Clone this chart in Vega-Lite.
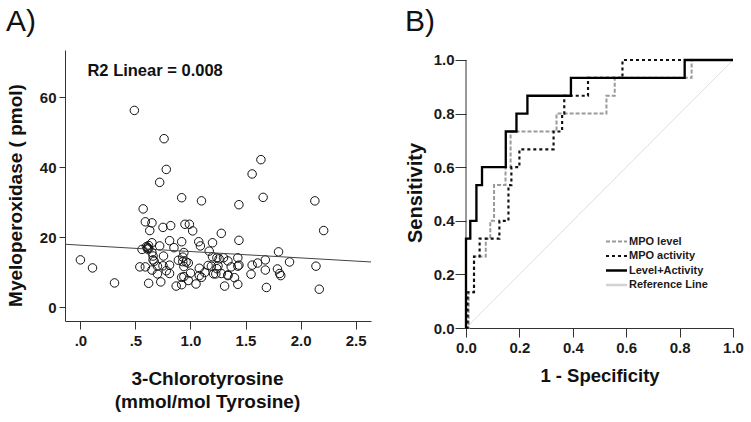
{
  "$schema": "https://vega.github.io/schema/vega-lite/v6.json",
  "background": "white",
  "padding": {"left": 6, "top": 7, "right": 5, "bottom": 5},
  "spacing": 95,
  "bounds": "flush",
  "config": {
    "view": {"stroke": null},
    "axis": {
      "grid": false,
      "domainColor": "#333333",
      "tickColor": "#333333",
      "labelFont": "Liberation Sans",
      "labelFontWeight": "bold",
      "labelFontSize": 15,
      "labelColor": "#1a1a1a",
      "labelFlush": false,
      "titleFont": "Liberation Sans",
      "titleFontWeight": "bold",
      "titleFontSize": 19,
      "titleColor": "#111111"
    }
  },
  "datasets": {
    "scatter": [
      {"c": 0.00, "m": 13.5}, {"c": 0.11, "m": 11.2}, {"c": 0.31, "m": 6.9}, {"c": 0.49, "m": 56.3},
      {"c": 0.76, "m": 48.2}, {"c": 0.78, "m": 39.4}, {"c": 0.72, "m": 35.7}, {"c": 0.92, "m": 31.3},
      {"c": 1.10, "m": 30.4}, {"c": 1.44, "m": 29.3}, {"c": 1.64, "m": 42.2}, {"c": 1.56, "m": 38.1},
      {"c": 1.66, "m": 31.4}, {"c": 2.13, "m": 30.4}, {"c": 2.21, "m": 21.9}, {"c": 2.14, "m": 11.7},
      {"c": 2.17, "m": 5.1}, {"c": 0.57, "m": 28.1}, {"c": 0.59, "m": 24.4}, {"c": 0.65, "m": 24.1},
      {"c": 0.63, "m": 21.9}, {"c": 0.75, "m": 22.8}, {"c": 0.82, "m": 23.3}, {"c": 0.95, "m": 23.7},
      {"c": 0.99, "m": 23.7}, {"c": 1.02, "m": 21.8}, {"c": 1.28, "m": 21.1}, {"c": 1.44, "m": 19.1},
      {"c": 0.81, "m": 19.0}, {"c": 0.92, "m": 18.7}, {"c": 1.075, "m": 18.7}, {"c": 1.20, "m": 18.4},
      {"c": 0.65, "m": 18.4}, {"c": 0.72, "m": 17.5}, {"c": 1.09, "m": 17.5}, {"c": 0.85, "m": 17.0},
      {"c": 0.56, "m": 16.5}, {"c": 0.60, "m": 17.3}, {"c": 0.61, "m": 17.0}, {"c": 0.62, "m": 16.8},
      {"c": 0.61, "m": 16.6}, {"c": 0.65, "m": 15.6}, {"c": 0.94, "m": 15.6}, {"c": 0.755, "m": 14.6},
      {"c": 1.17, "m": 16.0}, {"c": 1.20, "m": 14.4}, {"c": 1.24, "m": 14.1}, {"c": 1.26, "m": 13.8},
      {"c": 1.30, "m": 14.1}, {"c": 1.34, "m": 13.2}, {"c": 1.43, "m": 14.1}, {"c": 0.66, "m": 13.5},
      {"c": 0.67, "m": 13.1}, {"c": 0.93, "m": 14.3}, {"c": 0.96, "m": 12.9}, {"c": 0.98, "m": 12.6},
      {"c": 1.80, "m": 15.8}, {"c": 1.68, "m": 13.5}, {"c": 1.90, "m": 12.9}, {"c": 1.61, "m": 12.6},
      {"c": 1.56, "m": 12.0}, {"c": 1.44, "m": 12.0}, {"c": 1.43, "m": 11.7}, {"c": 0.54, "m": 11.5},
      {"c": 0.59, "m": 11.5}, {"c": 0.65, "m": 10.6}, {"c": 0.70, "m": 11.7}, {"c": 0.75, "m": 11.8},
      {"c": 0.81, "m": 12.0}, {"c": 0.94, "m": 11.6}, {"c": 1.08, "m": 11.1}, {"c": 1.19, "m": 11.7},
      {"c": 1.25, "m": 11.8}, {"c": 1.37, "m": 11.5}, {"c": 1.24, "m": 11.0}, {"c": 0.70, "m": 9.5},
      {"c": 0.81, "m": 9.6}, {"c": 0.92, "m": 8.5}, {"c": 0.94, "m": 8.7}, {"c": 1.00, "m": 9.7},
      {"c": 1.08, "m": 9.0}, {"c": 1.10, "m": 8.5}, {"c": 1.21, "m": 9.5}, {"c": 1.28, "m": 9.6},
      {"c": 1.34, "m": 9.2}, {"c": 1.40, "m": 8.4}, {"c": 1.55, "m": 9.4}, {"c": 1.68, "m": 10.6},
      {"c": 1.79, "m": 10.9}, {"c": 1.81, "m": 9.6}, {"c": 1.82, "m": 9.0}, {"c": 0.73, "m": 7.2},
      {"c": 0.62, "m": 6.8}, {"c": 0.87, "m": 6.0}, {"c": 0.92, "m": 6.4}, {"c": 1.05, "m": 6.6},
      {"c": 1.31, "m": 6.0}, {"c": 1.43, "m": 6.5}, {"c": 1.69, "m": 5.6}, {"c": 1.13, "m": 9.9},
      {"c": 1.16, "m": 11.9}, {"c": 0.89, "m": 13.4}, {"c": 0.62, "m": 17.6}, {"c": 0.66, "m": 14.6},
      {"c": 1.23, "m": 9.5}, {"c": 0.78, "m": 10.4}, {"c": 0.98, "m": 7.6}, {"c": 1.34, "m": 9.0},
      {"c": 0.93, "m": 13.0}
    ],
    "fit": [
      {"c": -0.14, "m": 17.97},
      {"c": 2.64, "m": 12.9}
    ],
    "roc": [
      {"series": "MPO level", "i": 0, "fpr": 0, "tpr": 0},
      {"series": "MPO level", "i": 1, "fpr": 0.01, "tpr": 0.1333},
      {"series": "MPO level", "i": 2, "fpr": 0.03, "tpr": 0.2667},
      {"series": "MPO level", "i": 3, "fpr": 0.074, "tpr": 0.3333},
      {"series": "MPO level", "i": 4, "fpr": 0.091, "tpr": 0.4},
      {"series": "MPO level", "i": 5, "fpr": 0.105, "tpr": 0.5333},
      {"series": "MPO level", "i": 6, "fpr": 0.148, "tpr": 0.6},
      {"series": "MPO level", "i": 7, "fpr": 0.167, "tpr": 0.7333},
      {"series": "MPO level", "i": 8, "fpr": 0.339, "tpr": 0.8},
      {"series": "MPO level", "i": 9, "fpr": 0.526, "tpr": 0.8667},
      {"series": "MPO level", "i": 10, "fpr": 0.557, "tpr": 0.9333},
      {"series": "MPO level", "i": 11, "fpr": 0.845, "tpr": 1},
      {"series": "MPO level", "i": 12, "fpr": 1, "tpr": 1},
      {"series": "MPO activity", "i": 0, "fpr": 0, "tpr": 0},
      {"series": "MPO activity", "i": 1, "fpr": 0.006, "tpr": 0.1333},
      {"series": "MPO activity", "i": 2, "fpr": 0.03, "tpr": 0.2667},
      {"series": "MPO activity", "i": 3, "fpr": 0.051, "tpr": 0.3333},
      {"series": "MPO activity", "i": 4, "fpr": 0.125, "tpr": 0.4},
      {"series": "MPO activity", "i": 5, "fpr": 0.159, "tpr": 0.5333},
      {"series": "MPO activity", "i": 6, "fpr": 0.17, "tpr": 0.6},
      {"series": "MPO activity", "i": 7, "fpr": 0.2, "tpr": 0.6667},
      {"series": "MPO activity", "i": 8, "fpr": 0.328, "tpr": 0.7333},
      {"series": "MPO activity", "i": 9, "fpr": 0.36, "tpr": 0.8},
      {"series": "MPO activity", "i": 10, "fpr": 0.368, "tpr": 0.8667},
      {"series": "MPO activity", "i": 11, "fpr": 0.457, "tpr": 0.9333},
      {"series": "MPO activity", "i": 12, "fpr": 0.586, "tpr": 1},
      {"series": "MPO activity", "i": 13, "fpr": 1, "tpr": 1},
      {"series": "Level+Activity", "i": 0, "fpr": 0, "tpr": 0},
      {"series": "Level+Activity", "i": 1, "fpr": 0, "tpr": 0.3333},
      {"series": "Level+Activity", "i": 2, "fpr": 0.016, "tpr": 0.4},
      {"series": "Level+Activity", "i": 3, "fpr": 0.039, "tpr": 0.5333},
      {"series": "Level+Activity", "i": 4, "fpr": 0.06, "tpr": 0.6},
      {"series": "Level+Activity", "i": 5, "fpr": 0.149, "tpr": 0.7333},
      {"series": "Level+Activity", "i": 6, "fpr": 0.189, "tpr": 0.8},
      {"series": "Level+Activity", "i": 7, "fpr": 0.23, "tpr": 0.8667},
      {"series": "Level+Activity", "i": 8, "fpr": 0.393, "tpr": 0.9333},
      {"series": "Level+Activity", "i": 9, "fpr": 0.819, "tpr": 1},
      {"series": "Level+Activity", "i": 10, "fpr": 1, "tpr": 1}
    ],
    "refline": [
      {"series": "Reference Line", "i": 0, "fpr": 0, "tpr": 0},
      {"series": "Reference Line", "i": 1, "fpr": 1, "tpr": 1}
    ]
  },
  "hconcat": [
    {
      "width": 306,
      "height": 271,
      "title": {"text": "A)", "anchor": "start", "frame": "group", "dx": -59, "offset": -11, "baseline": "alphabetic", "fontSize": 30, "fontWeight": "normal", "font": "Liberation Sans", "color": "#111111"},
      "layer": [
        {
          "data": {"name": "scatter"},
          "mark": {"type": "point", "shape": "circle", "filled": false, "stroke": "#111111", "strokeWidth": 1, "size": 72, "opacity": 1},
          "encoding": {
            "x": {
              "field": "c", "type": "quantitative",
              "scale": {"domain": [-0.14, 2.64], "nice": false, "zero": false},
              "axis": {
                "values": [0, 0.5, 1, 1.5, 2, 2.5],
                "labelExpr": "datum.value < 1 ? substring(format(datum.value, '.1f'), 1) : format(datum.value, '.1f')",
                "tickSize": 8, "labelPadding": 4,
                "title": ["3-Chlorotyrosine", "(mmol/mol Tyrosine)"],
                "titlePadding": 21, "titleLineHeight": 23, "titleX": 142
              }
            },
            "y": {
              "field": "m", "type": "quantitative",
              "scale": {"domain": [-4, 73.6], "nice": false, "zero": false},
              "axis": {
                "values": [0, 20, 40, 60],
                "tickSize": 6, "labelPadding": 3,
                "title": "Myeloperoxidase ( pmol)",
                "titlePadding": 14, "titleY": 145
              }
            }
          }
        },
        {
          "data": {"name": "fit"},
          "mark": {"type": "line", "color": "#444444", "strokeWidth": 1},
          "encoding": {
            "x": {"field": "c", "type": "quantitative"},
            "y": {"field": "m", "type": "quantitative"}
          }
        },
        {
          "data": {"values": [{"label": "R2 Linear = 0.008"}]},
          "mark": {"type": "text", "align": "left", "baseline": "middle", "font": "Liberation Sans", "fontWeight": "bold", "fontSize": 16.5, "color": "#111111"},
          "encoding": {
            "x": {"datum": 0.064},
            "y": {"datum": 67.7},
            "text": {"field": "label"}
          }
        }
      ]
    },
    {
      "width": 267,
      "height": 278,
      "title": {"text": "B)", "anchor": "start", "frame": "group", "dx": -61, "offset": -11, "baseline": "alphabetic", "fontSize": 30, "fontWeight": "normal", "font": "Liberation Sans", "color": "#111111"},
      "layer": [
        {
          "data": {"values": [{"part": "y axis line"}]},
          "mark": {"type": "rule", "color": "#333333", "strokeWidth": 1},
          "encoding": {
            "x": {"datum": 0, "type": "quantitative"},
            "y": {"datum": 0, "type": "quantitative"},
            "y2": {"datum": 1}
          }
        },
        {
          "data": {"name": "refline"},
          "mark": {"type": "line", "interpolate": "linear", "strokeWidth": 0.8},
          "encoding": {
            "x": {"field": "fpr", "type": "quantitative"},
            "y": {"field": "tpr", "type": "quantitative"},
            "order": {"field": "i"},
            "color": {"field": "series", "type": "nominal"},
            "strokeDash": {"field": "series", "type": "nominal"}
          }
        },
        {
          "data": {"name": "roc"},
          "mark": {"type": "line", "interpolate": "step-after"},
          "encoding": {
            "x": {
              "field": "fpr", "type": "quantitative",
              "scale": {"domain": [0, 1], "nice": false, "zero": false},
              "axis": {"values": [0, 0.2, 0.4, 0.6, 0.8, 1], "format": ".1f", "tickSize": 9, "labelPadding": 3, "title": "1 - Specificity", "titleFontSize": 18.5, "titlePadding": 11}
            },
            "y": {
              "field": "tpr", "type": "quantitative",
              "scale": {"domain": [0, 1.0373], "nice": false, "zero": false},
              "axis": {"values": [0, 0.2, 0.4, 0.6, 0.8, 1], "format": ".1f", "domain": false, "tickSize": 11, "labelPadding": 1, "title": "Sensitivity", "titleFontSize": 20, "titlePadding": 8, "titleY": 142.5}
            },
            "order": {"field": "i"},
            "color": {
              "field": "series", "type": "nominal",
              "scale": {"domain": ["MPO level", "MPO activity", "Level+Activity", "Reference Line"], "range": ["#9a9a9a", "#111111", "#000000", "#d2d2d2"]},
              "legend": {"orient": "none", "legendX": 545, "legendY": 185, "title": null, "symbolType": "M-2,0L2,0", "symbolSize": 110, "labelOffset": 6, "rowPadding": 2.5, "padding": 0, "labelFont": "Liberation Sans", "labelFontWeight": "bold", "labelFontSize": 11, "labelColor": "#1a1a1a"}
            },
            "strokeDash": {
              "field": "series", "type": "nominal",
              "scale": {"domain": ["MPO level", "MPO activity", "Level+Activity", "Reference Line"], "range": [[4, 2], [3, 3], [1, 0], [1, 0]]}
            },
            "strokeWidth": {
              "field": "series", "type": "nominal",
              "scale": {"domain": ["MPO level", "MPO activity", "Level+Activity", "Reference Line"], "range": [2, 2.5, 3, 0.8]}
            }
          }
        }
      ]
    }
  ]
}
